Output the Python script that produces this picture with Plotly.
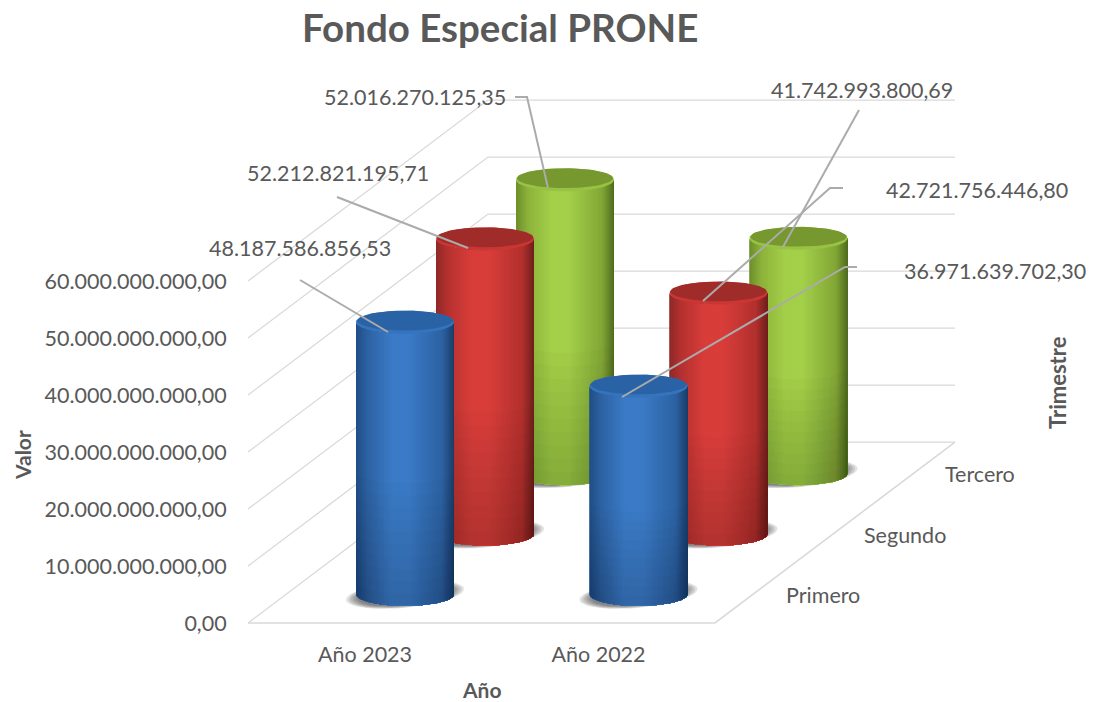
import math
import plotly.graph_objects as go

# ---------- data ----------
title = "Fondo Especial PRONE"
years = ["Año 2023", "Año 2022"]
quarters = ["Primero", "Segundo", "Tercero"]
primero = [48187586856.53, 36971639702.30]
segundo = [52212821195.71, 42721756446.80]
tercero = [52016270125.35, 41742993800.69]
value_ticks = [0, 10e9, 20e9, 30e9, 40e9, 50e9, 60e9]

# ---------- page geometry (pixels) ----------
W, H = 1094, 702
X0_PX, Y0_PX = 365.0, 623.0     # first category on the front floor edge / value zero
CAT_PX = 233.5
VAL_PX = 57.0 / 1e10
ROW_DX, ROW_DY = 80.0, 60.3     # oblique shift per depth row
RAD, RY = 49.0, 11.5


def X(px):
    return (px - X0_PX) / CAT_PX


def Y(py):
    return (Y0_PX - py) / VAL_PX


def fmt(v):
    return f"{v:,.2f}".replace(",", "#").replace(".", ",").replace("#", ".")


def lerp_color(stops, t):
    for (a, ca), (b, cb) in zip(stops, stops[1:]):
        if t <= b:
            u = (t - a) / (b - a)
            return "rgb(%d,%d,%d)" % tuple(round(p + (q - p) * u) for p, q in zip(ca, cb))
    return "rgb(%d,%d,%d)" % stops[-1][1]


STOP_POS = [0, .12, .36, .54, .88, 1]
PALETTES = {
    "blue": dict(
        stops=list(zip(STOP_POS, [(32, 78, 134), (45, 98, 162), (58, 122, 198), (58, 122, 198), (44, 98, 162), (27, 61, 104)])),
        rim="#3574bd", face="#2a62a6"),
    "red": dict(
        stops=list(zip(STOP_POS, [(142, 42, 40), (181, 49, 47), (216, 61, 58), (216, 61, 58), (178, 48, 45), (110, 32, 30)])),
        rim="#c93634", face="#a02c2a"),
    "green": dict(
        stops=list(zip(STOP_POS, [(108, 142, 43), (140, 178, 58), (163, 207, 73), (163, 207, 73), (130, 166, 53), (79, 107, 31)])),
        rim="#98c243", face="#76982f"),
}

fig = go.Figure()


def poly(xs_px, ys_val, color):
    fig.add_trace(go.Scatter(
        x=[X(p) for p in xs_px], y=ys_val, mode="lines", fill="toself", fillcolor=color,
        line=dict(color="rgba(0,0,0,0)", width=0),
        hoverinfo="skip", showlegend=False))


def seg(xs_px, ys_val, color, width):
    fig.add_trace(go.Scatter(
        x=[X(p) for p in xs_px], y=ys_val, mode="lines", line=dict(color=color, width=width),
        hoverinfo="skip", showlegend=False))


# ---------- walls and floor ----------
GRID = "#d9d9d9"
LEFT_PX = 248.0
RIGHT_PX = 715.0
DEPTH_DX = ROW_DX * 3
DEPTH_DY = ROW_DY * 3
for v in value_ticks:
    y_front = v
    y_back = v + DEPTH_DY / VAL_PX
    seg([LEFT_PX, LEFT_PX + DEPTH_DX, RIGHT_PX + DEPTH_DX], [y_front, y_back, y_back], GRID, 1.3)
seg([LEFT_PX, RIGHT_PX, RIGHT_PX + DEPTH_DX], [0, 0, DEPTH_DY / VAL_PX], GRID, 1.6)


# ---------- cylinders ----------
def cylinder(cat, row, value, pal):
    cx = X0_PX + CAT_PX * cat + (row + 0.5) * ROW_DX
    base_px = Y0_PX + 1.5 - (row + 0.5) * ROW_DY
    base = Y(base_px)
    top_px = base_px - value * VAL_PX + 2.5
    top = Y(top_px)
    ry_v = RY / VAL_PX
    # ground shadow
    for k in range(6):
        rx = RAD + 10 - k * 2.4
        ry = RY + 2.0 - k * 0.5
        ang = [i * 2 * math.pi / 48 for i in range(49)]
        poly([cx + rx * math.cos(a) for a in ang],
             [base + (ry * math.sin(a) + 0.09 * rx * math.cos(a)) / VAL_PX for a in ang],
             "rgba(40,40,40,0.13)")
    # side wall: each strip reaches to the right edge and is over-painted by the next, so no seams
    n = 56
    angles = [math.pi * (1 - i / n) for i in range(n + 1)]
    for i in range(n):
        tail = angles[i:]
        xs = [cx + RAD * math.cos(a) for a in tail]
        t = (cx + RAD * (math.cos(angles[i]) + math.cos(angles[i + 1])) / 2 - (cx - RAD)) / (2 * RAD)
        ys_top = [top - ry_v * math.sin(a) for a in tail]
        ys_bot = [base - ry_v * math.sin(a) for a in tail]
        poly(xs + xs[::-1], ys_top + ys_bot[::-1], lerp_color(pal["stops"], t))
    # downward darkening
    bands = 10
    arc = [math.pi * (1 - i / 40) for i in range(41)]
    mid = top + (base - top) * 0.55
    for b in range(bands):
        y1 = mid + (base - mid) * b / bands
        xs = [cx + RAD * math.cos(a) for a in arc]
        lo = [base - ry_v * math.sin(a) for a in arc]
        poly(xs + xs[::-1], [y1 - ry_v * math.sin(a) for a in arc] + lo[::-1], "rgba(0,0,0,0.015)")
    # top: lighter front rim and darker face
    ang = [i * 2 * math.pi / 72 for i in range(73)]
    poly([cx + RAD * math.cos(a) for a in ang], [top + ry_v * math.sin(a) for a in ang], pal["rim"])
    poly([cx + (RAD - 1) * math.cos(a) for a in ang],
         [top + (1.6 / VAL_PX) + (RY - 1.6) / VAL_PX * math.sin(a) for a in ang], pal["face"])


for row, (series, pname) in reversed(list(enumerate([(primero, "blue"), (segundo, "red"), (tercero, "green")]))):
    for cat, v in enumerate(series):
        cylinder(cat, row, v, PALETTES[pname])

# ---------- data labels with leader lines ----------
LEADER = "#ababab"
labels = [
    (primero[0], 300, 248, [(300, 280), (388, 332)]),
    (segundo[0], 338, 173, [(337, 197), (468, 248)]),
    (tercero[0], 415, 97, [(515, 97), (527, 97), (548, 188)]),
    (tercero[1], 862, 90, [(859, 110), (783, 247)]),
    (segundo[1], 977, 190, [(843, 188), (830, 188), (703, 301)]),
    (primero[1], 995, 271, [(857, 267), (845, 267), (622, 397)]),
]
annotations = []
TXT = "#595959"
FONT = "Lato"


def note(text, px, py, size, bold=False, angle=0):
    annotations.append(dict(
        text=f"<b>{text}</b>" if bold else text, xref="paper", yref="paper",
        x=px / W, y=1 - py / H, showarrow=False, xanchor="center", yanchor="middle",
        textangle=angle, font=dict(family=FONT, size=size, color=TXT)))


for v, lx, ly, pts in labels:
    seg([p[0] for p in pts], [Y(p[1]) for p in pts], LEADER, 2)
    note(fmt(v), lx, ly, 21.5)

note(title, 500, 27, 38.5, bold=True)
note("Valor", 22, 455, 21, bold=True, angle=-90)
note("Año", 481, 689, 21, bold=True)
note("Trimestre", 1057, 383, 22, bold=True, angle=-90)
for q, (qx, qy) in zip(quarters, [(823, 595), (905, 535), (980, 474)]):
    note(q, qx, qy, 21.5)

# ---------- axes ----------
fig.update_layout(
    width=W, height=H, autosize=False,
    margin=dict(l=0, r=0, t=0, b=0),
    paper_bgcolor="white", plot_bgcolor="rgba(0,0,0,0)",
    separators=",.",
    showlegend=False,
    annotations=annotations,
    xaxis=dict(
        range=[X(0), X(W)], domain=[0, 1], tickmode="array",
        tickvals=list(range(len(years))), ticktext=years,
        showgrid=False, zeroline=False, showline=False,
        anchor="free", position=1 - Y0_PX / H,
        ticks="outside", ticklen=12, tickcolor="rgba(0,0,0,0)",
        tickfont=dict(family=FONT, size=21.5, color=TXT)),
    yaxis=dict(
        range=[Y(H), Y(0)], domain=[0, 1], tickmode="array",
        tickvals=value_ticks, tickformat=",.2f",
        showgrid=False, zeroline=False, showline=False,
        anchor="free", position=LEFT_PX / W,
        ticks="outside", ticklen=17, tickcolor="rgba(0,0,0,0)",
        tickfont=dict(family=FONT, size=21.5, color=TXT)),
)

fig.write_html("out.html", config={"displayModeBar": False},
               post_script="document.body.style.margin='0';")
